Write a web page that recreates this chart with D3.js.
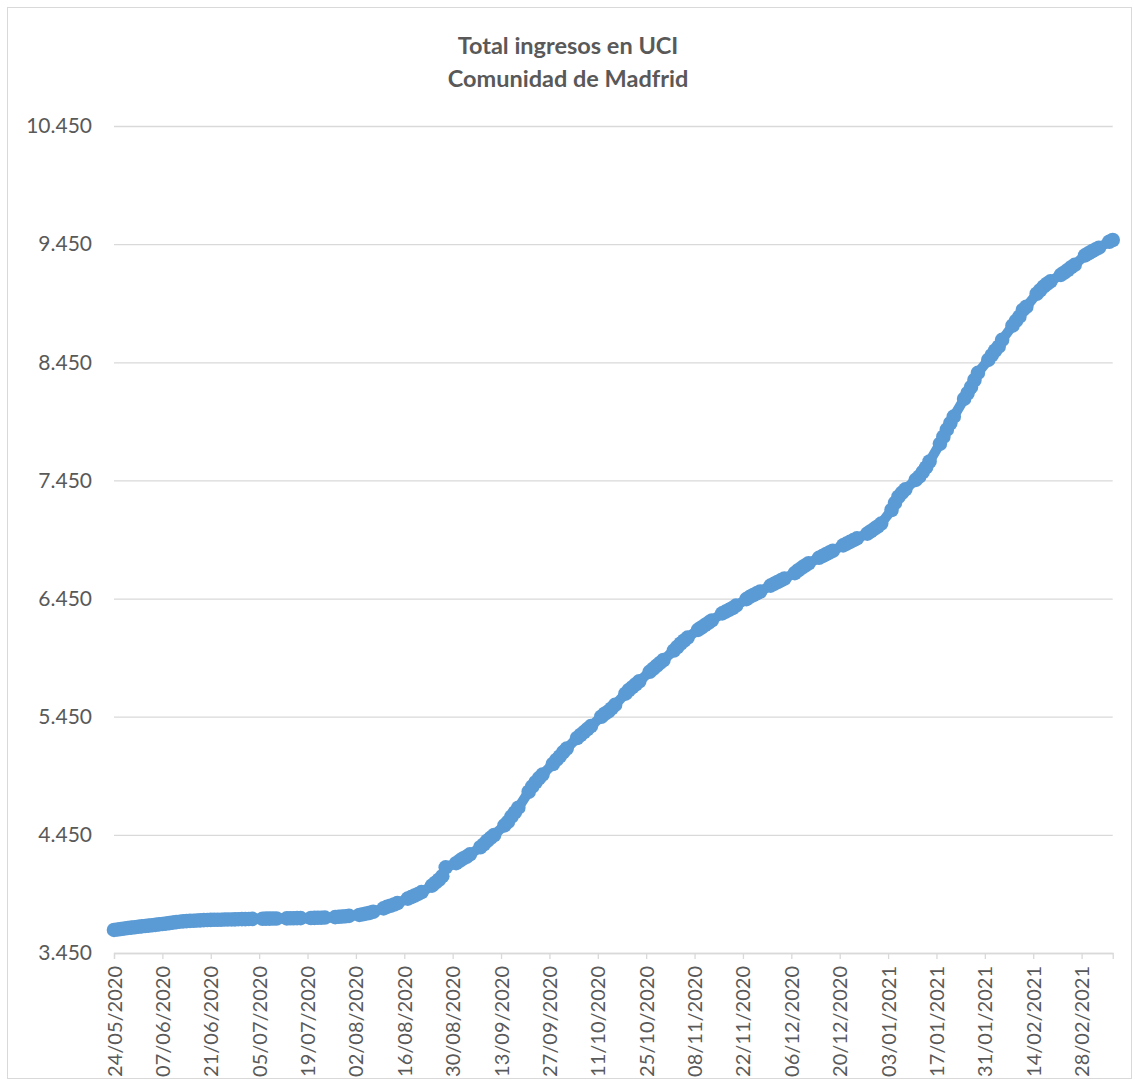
<!DOCTYPE html>
<meta charset="utf-8">
<body style="margin:0;background:#fff">
<script src="https://d3js.org/d3.v7.min.js"></script>
<script>
var width = 1136,
    height = 1083;

// first day of the series, one value per day (null = no report that day)
var firstDay = "24/05/2020";
var lastDay = "09/03/2021";
var totals = [
  3645, 3649, 3653, 3657, 3661, 3665, 3668,
  3672, 3675, 3678, 3682, 3685, 3688, 3692,
  3695, 3699, 3703, 3707, 3711, 3715, 3718,
  3720, 3722, 3723, 3725, 3726, 3728, 3729,
  3730, 3731, 3731, 3732, 3733, 3734, 3734,
  3735, 3736, 3737, 3737, 3738, 3739, null,
  null, 3740, 3741, 3741, 3742, 3742, null,
  null, 3743, 3744, 3744, 3745, 3745, null,
  null, 3746, 3747, 3748, 3749, 3750, null,
  null, 3754, 3757, 3759, 3761, 3764, null,
  null, 3772, 3778, 3784, 3790, 3799, null,
  null, 3828, 3840, 3850, 3860, 3872, null,
  null, 3910, 3923, 3937, 3950, 3965, null,
  null, 4020, 4045, 4070, 4100, 4175, null,
  null, 4210, 4230, 4250, 4265, 4285, null,
  null, 4345, 4370, 4400, 4425, 4449, null,
  null, 4530, 4560, 4604, 4640, 4680, null,
  null, 4815, 4858, 4895, 4930, 4960, null,
  null, 5050, 5084, 5115, 5150, 5180, null,
  null, 5270, 5295, 5320, 5345, 5370, null,
  null, 5450, 5475, 5493, 5520, 5550, null,
  null, 5645, 5676, 5700, 5725, 5750, null,
  null, 5830, 5855, 5880, 5905, 5930, null,
  null, 6010, 6040, 6070, 6095, 6120, null,
  null, 6185, 6205, 6225, 6245, 6265, null,
  null, 6325, 6340, 6355, 6370, 6390, null,
  null, 6445, 6465, 6480, 6495, 6510, null,
  null, 6560, 6575, 6590, 6605, 6620, null,
  null, 6665, 6690, 6710, 6730, 6749, null,
  null, 6795, 6810, 6825, 6840, 6855, null,
  null, 6900, 6915, 6930, 6945, 6960, null,
  null, 7000, 7020, 7040, 7060, 7085, null,
  null, 7200, 7260, 7312, 7345, 7375, null,
  null, 7455, 7482, 7520, 7560, 7610, null,
  null, 7760, 7820, 7880, 7934, 7990, null,
  null, 8140, 8188, 8240, 8300, 8360, null,
  null, 8470, 8510, 8550, 8582, 8640, null,
  null, 8760, 8800, 8836, 8893, 8920, null,
  null, 9030, 9060, 9090, 9115, 9135, null,
  null, 9190, 9210, 9231, 9255, 9275, null,
  null, 9355, 9373, 9390, 9405, 9420, null,
  null, 9470, 9485
];

var tickDates = ["24/05/2020", "07/06/2020", "21/06/2020", "05/07/2020", "19/07/2020",
  "02/08/2020", "16/08/2020", "30/08/2020", "13/09/2020", "27/09/2020", "11/10/2020",
  "25/10/2020", "08/11/2020", "22/11/2020", "06/12/2020", "20/12/2020", "03/01/2021",
  "17/01/2021", "31/01/2021", "14/02/2021", "28/02/2021"];
var yTicks = [3450, 4450, 5450, 6450, 7450, 8450, 9450, 10450];
var titleLines = ["Total ingresos en UCI", "Comunidad de Madfrid"];

var parse = d3.timeParse("%d/%m/%Y");
var es = d3.formatLocale({decimal: ",", thousands: ".", grouping: [3], currency: ["", "€"]});
var fmt = es.format(",d");

var start = parse(firstDay);
var points = totals.map(function(v, i) {
  return {date: d3.timeDay.offset(start, i), value: v};
}).filter(function(d) { return d.value != null; });

var x = d3.scaleTime()
    .domain([start, parse(lastDay)])
    .range([114, 1112.7]);

var y = d3.scaleLinear()
    .domain([3450, 10450])
    .range([953, 126]);

var svg = d3.select("body").append("svg")
    .attr("width", width)
    .attr("height", height)
    .style("font-family", "Lato, 'Open Sans', sans-serif");

svg.append("rect")
    .attr("x", 7.5).attr("y", 7.5)
    .attr("width", 1124).attr("height", 1071)
    .attr("fill", "#fff")
    .attr("stroke", "#D9D9D9");

svg.append("text")
    .attr("x", 568)
    .attr("text-anchor", "middle")
    .attr("fill", "#595959")
    .style("font-weight", "bold")
    .style("font-size", "23.5px")
    .selectAll("tspan")
    .data(titleLines)
    .enter().append("tspan")
    .attr("x", 568)
    .attr("y", function(d, i) { return 54 + i * 33; })
    .text(function(d) { return d; });

// gridlines + y labels
var yAxis = svg.append("g")
    .attr("transform", "translate(114,0)")
    .call(d3.axisLeft(y).tickValues(yTicks).tickSize(-(1112.7 - 114)).tickPadding(22).tickFormat(fmt));
yAxis.select(".domain").remove();
yAxis.selectAll(".tick line").attr("stroke", "#D9D9D9").attr("stroke-width", 1.3);
yAxis.selectAll(".tick text")
    .attr("fill", "#595959")
    .style("font-size", "21px")
    .style("font-family", "Lato, sans-serif");

// x axis
var xAxis = svg.append("g")
    .attr("transform", "translate(0,953)")
    .call(d3.axisBottom(x).tickValues(tickDates.map(parse)).tickSize(6).tickFormat(d3.timeFormat("%d/%m/%Y")));
xAxis.select(".domain").attr("stroke", "#D9D9D9").attr("stroke-width", 1.3);
xAxis.selectAll(".tick line").attr("stroke", "#D9D9D9").attr("stroke-width", 1.3);
xAxis.selectAll(".tick text")
    .attr("fill", "#595959")
    .style("font-size", "20px")
    .style("font-family", "Lato, sans-serif")
    .attr("transform", "rotate(-90)")
    .attr("text-anchor", "end")
    .attr("x", -13)
    .attr("y", 0)
    .attr("dy", "0.35em");

var line = d3.line()
    .x(function(d) { return x(d.date); })
    .y(function(d) { return y(d.value); });

svg.append("path")
    .datum(points)
    .attr("fill", "none")
    .attr("stroke", "#5B9BD5")
    .attr("stroke-width", 10)
    .attr("stroke-linejoin", "round")
    .attr("d", line);

svg.append("g")
    .selectAll("circle")
    .data(points)
    .enter().append("circle")
    .attr("cx", function(d) { return x(d.date); })
    .attr("cy", function(d) { return y(d.value); })
    .attr("r", 7.3)
    .attr("fill", "#5B9BD5");
</script>
</html>
